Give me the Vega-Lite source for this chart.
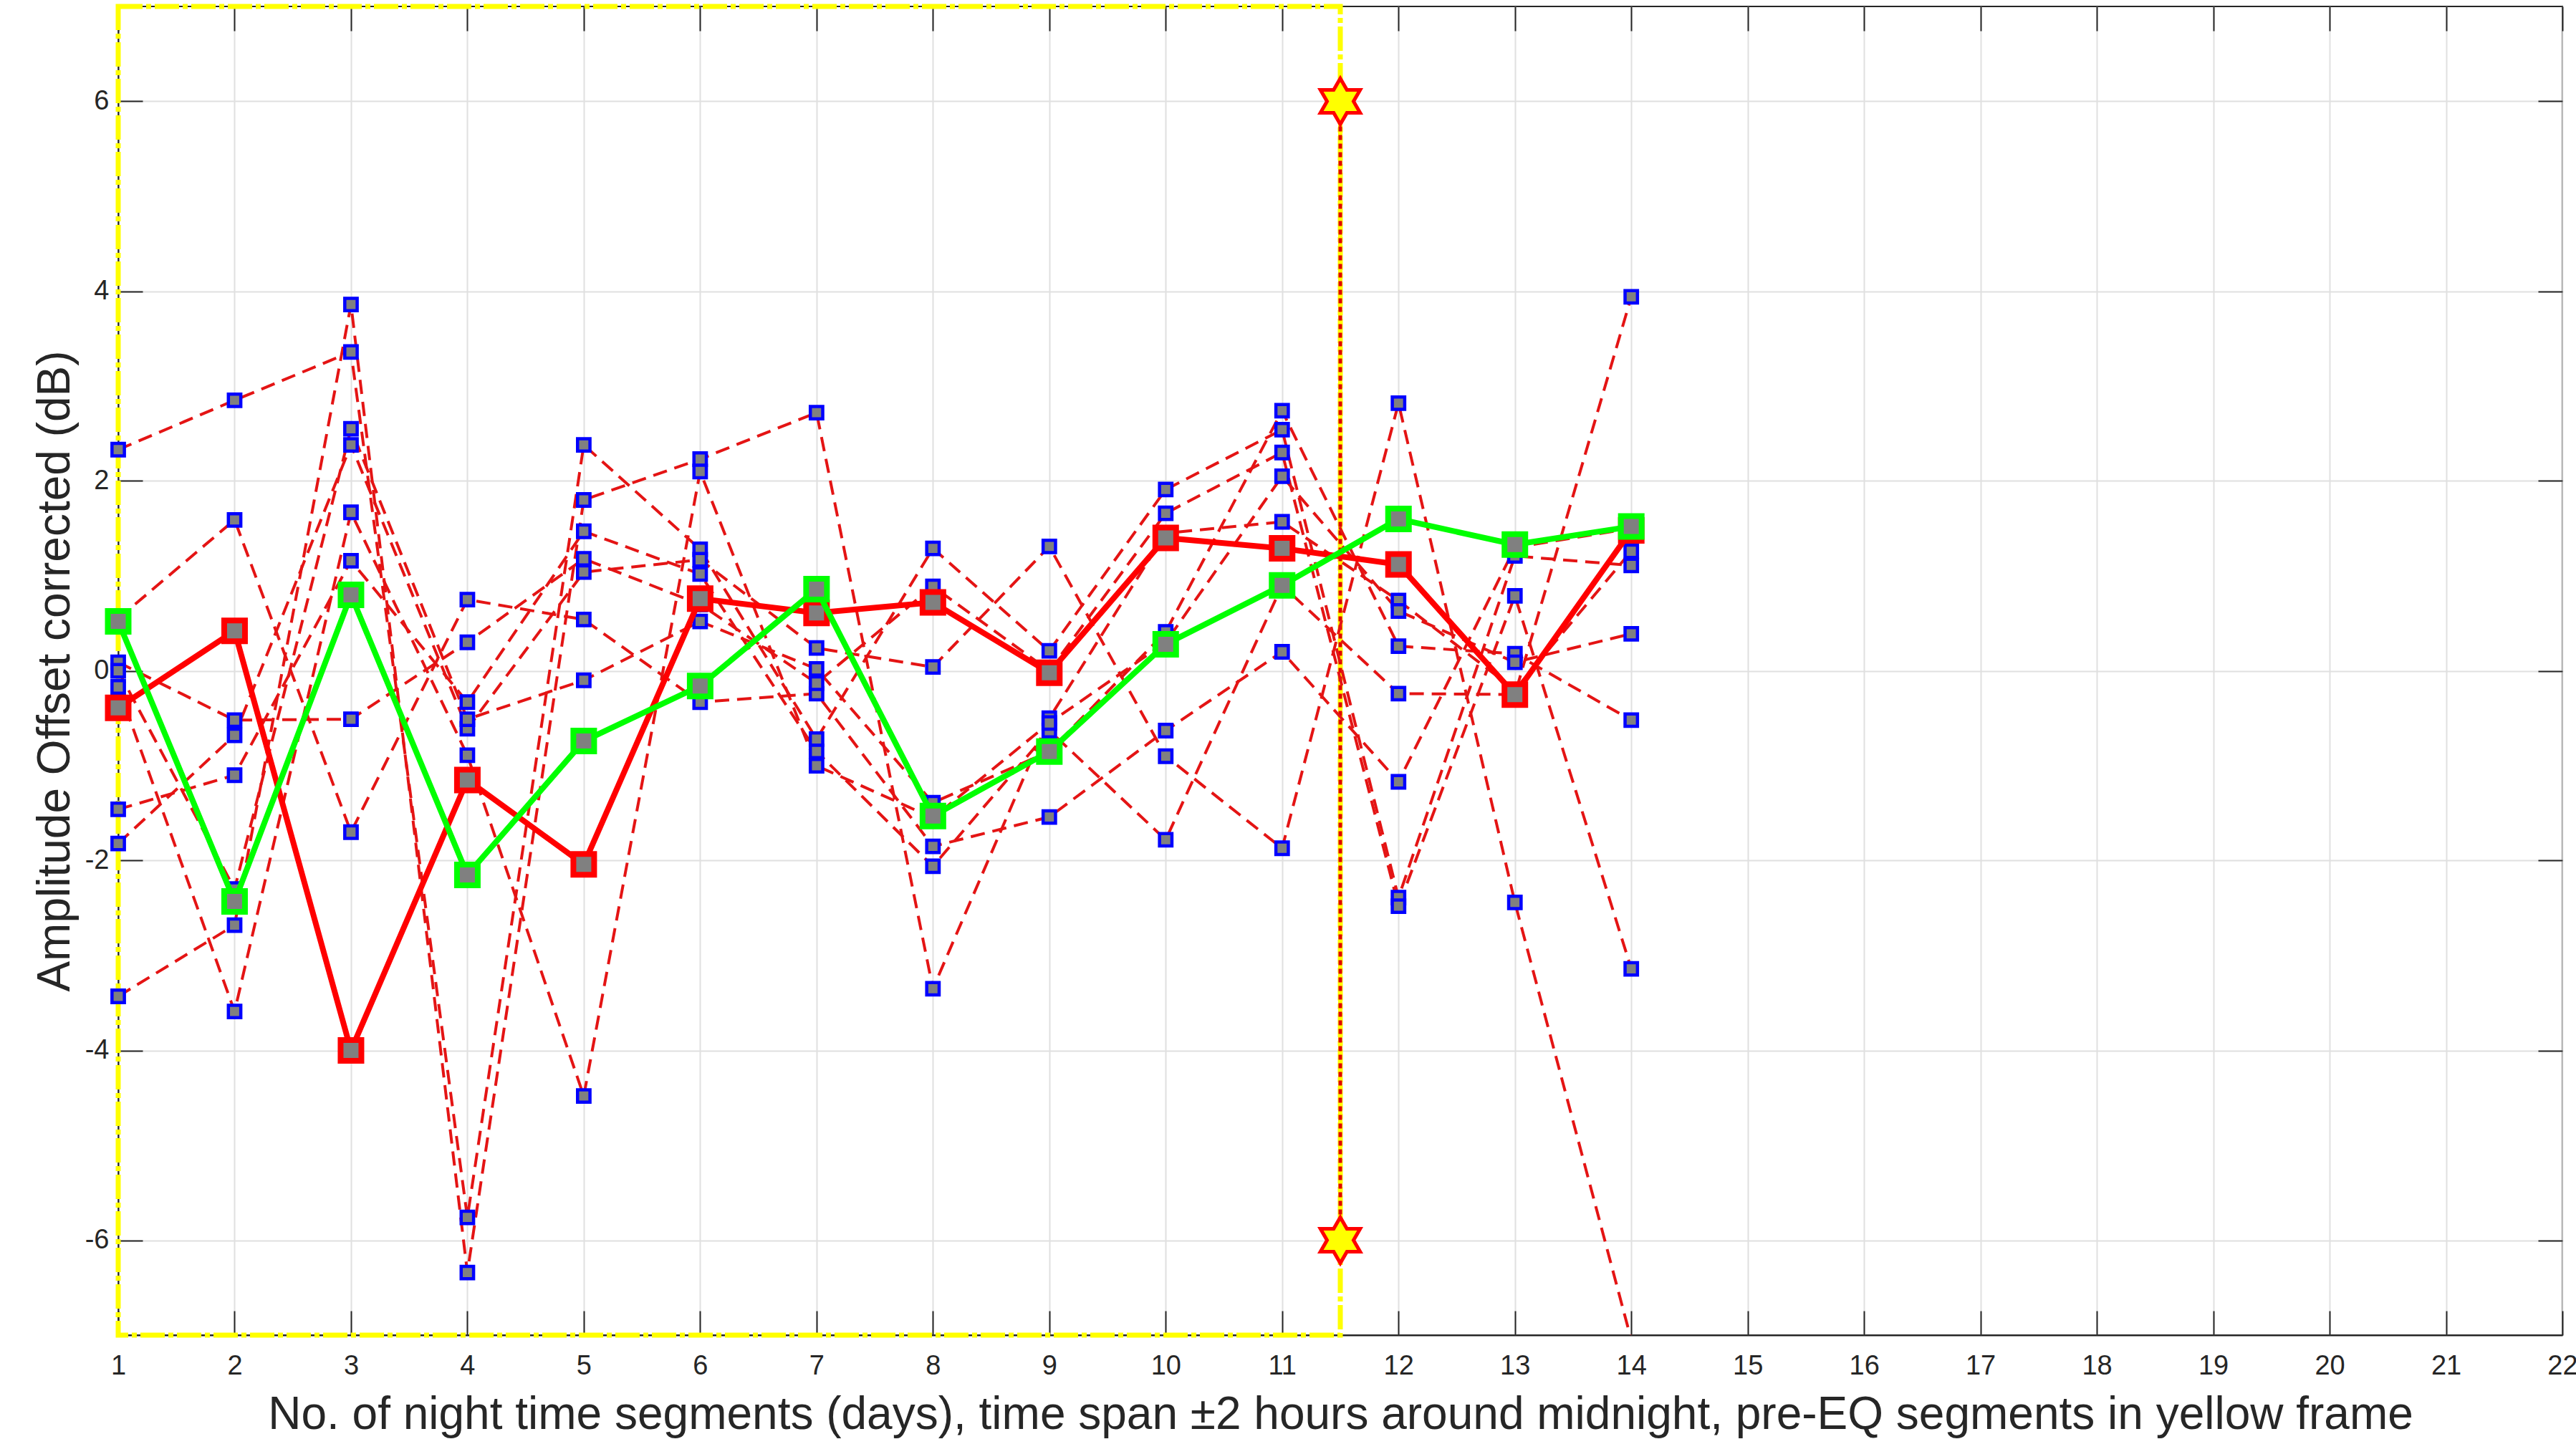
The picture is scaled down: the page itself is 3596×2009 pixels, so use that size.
{
  "$schema": "https://vega.github.io/schema/vega-lite/v6.json",
  "width": 3412,
  "height": 1855,
  "autosize": {"type": "none"},
  "padding": {"left": 165, "top": 9, "right": 19, "bottom": 145},
  "background": "white",
  "config": {"view": {"stroke": "#262626", "strokeWidth": 2}, "font": "Liberation Sans"},
  "datasets": {
    "stations": [
      {"s":"A","x":1,"y":2.33},{"s":"A","x":2,"y":2.85},{"s":"A","x":3,"y":3.36},{"s":"A","x":4,"y":-5.76},{"s":"A","x":5,"y":2.38},{"s":"A","x":6,"y":1.28},{"s":"A","x":7,"y":-0.72},{"s":"A","x":8,"y":1.29},{"s":"A","x":9,"y":0.21},{"s":"A","x":10,"y":1.91},{"s":"A","x":11,"y":2.54},{"s":"A","x":12,"y":-2.39},{"s":"A","x":13,"y":1.21},{"s":"A","x":14,"y":1.11},
      {"s":"B","x":1,"y":0.55},{"s":"B","x":2,"y":1.59},{"s":"B","x":3,"y":-1.70},{"s":"B","x":4,"y":0.75},{"s":"B","x":5,"y":0.54},{"s":"B","x":6,"y":-0.33},{"s":"B","x":7,"y":-0.24},{"s":"B","x":8,"y":-1.85},{"s":"B","x":9,"y":-1.54},{"s":"B","x":10,"y":-0.63},{"s":"B","x":11,"y":0.20},{"s":"B","x":12,"y":-1.17},{"s":"B","x":13,"y":1.30},{"s":"B","x":14,"y":1.50},
      {"s":"C","x":1,"y":0.09},{"s":"C","x":2,"y":-0.52},{"s":"C","x":3,"y":-0.51},{"s":"C","x":4,"y":0.30},{"s":"C","x":5,"y":1.18},{"s":"C","x":6,"y":0.70},{"s":"C","x":7,"y":-0.13},{"s":"C","x":8,"y":0.89},{"s":"C","x":9,"y":0.00},{"s":"C","x":10,"y":1.66},{"s":"C","x":11,"y":2.30},{"s":"C","x":12,"y":-2.48},{"s":"C","x":13,"y":0.79},{"s":"C","x":14,"y":-3.14},
      {"s":"D","x":1,"y":-1.46},{"s":"D","x":2,"y":-1.10},{"s":"D","x":3,"y":1.16},{"s":"D","x":4,"y":-0.33},{"s":"D","x":5,"y":1.47},{"s":"D","x":6,"y":1.02},{"s":"D","x":7,"y":-0.85},{"s":"D","x":8,"y":-2.06},{"s":"D","x":9,"y":-0.63},{"s":"D","x":10,"y":-1.78},{"s":"D","x":11,"y":0.90},{"s":"D","x":12,"y":-0.24},{"s":"D","x":13,"y":-0.25},{"s":"D","x":14,"y":3.94},
      {"s":"E","x":1,"y":-1.82},{"s":"E","x":2,"y":-0.68},{"s":"E","x":3,"y":2.38},{"s":"E","x":4,"y":-0.61},{"s":"E","x":5,"y":1.04},{"s":"E","x":6,"y":1.17},{"s":"E","x":7,"y":0.24},{"s":"E","x":8,"y":0.04},{"s":"E","x":9,"y":1.31},{"s":"E","x":10,"y":-0.90},{"s":"E","x":11,"y":-1.87},{"s":"E","x":12,"y":2.82},{"s":"E","x":13,"y":-2.44},{"s":"E","x":14,"y":-7.05},
      {"s":"F","x":1,"y":-3.43},{"s":"F","x":2,"y":-2.68},{"s":"F","x":3,"y":3.86},{"s":"F","x":4,"y":-6.34},{"s":"F","x":5,"y":1.80},{"s":"F","x":6,"y":2.23},{"s":"F","x":7,"y":2.72},{"s":"F","x":8,"y":-3.35},{"s":"F","x":9,"y":-0.50},{"s":"F","x":10,"y":1.45},{"s":"F","x":11,"y":1.57},{"s":"F","x":12,"y":0.74},{"s":"F","x":13,"y":-0.20},{"s":"F","x":14,"y":1.26},
      {"s":"G","x":1,"y":0.00},{"s":"G","x":2,"y":-2.30},{"s":"G","x":3,"y":2.55},{"s":"G","x":4,"y":-0.51},{"s":"G","x":5,"y":-0.10},{"s":"G","x":6,"y":0.52},{"s":"G","x":7,"y":0.02},{"s":"G","x":8,"y":-1.39},{"s":"G","x":9,"y":-0.85},{"s":"G","x":10,"y":0.41},{"s":"G","x":11,"y":2.74},{"s":"G","x":12,"y":0.26},{"s":"G","x":13,"y":0.18},{"s":"G","x":14,"y":-0.52},
      {"s":"H","x":1,"y":-0.17},{"s":"H","x":2,"y":-3.59},{"s":"H","x":3,"y":1.67},{"s":"H","x":4,"y":-0.89},{"s":"H","x":5,"y":-4.48},{"s":"H","x":6,"y":2.10},{"s":"H","x":7,"y":-1.00},{"s":"H","x":8,"y":-1.55},{"s":"H","x":9,"y":-0.55},{"s":"H","x":10,"y":0.30},{"s":"H","x":11,"y":2.05},{"s":"H","x":12,"y":0.63},{"s":"H","x":13,"y":0.09},{"s":"H","x":14,"y":0.39}
    ],
    "redmean": [
      {"x":1,"y":-0.39},{"x":2,"y":0.42},{"x":3,"y":-4.00},{"x":4,"y":-1.15},{"x":5,"y":-2.04},{"x":6,"y":0.76},{"x":7,"y":0.61},{"x":8,"y":0.72},{"x":9,"y":-0.02},{"x":10,"y":1.40},{"x":11,"y":1.29},{"x":12,"y":1.12},{"x":13,"y":-0.25},{"x":14,"y":1.48}
    ],
    "greenmean": [
      {"x":1,"y":0.52},{"x":2,"y":-2.43},{"x":3,"y":0.80},{"x":4,"y":-2.15},{"x":5,"y":-0.74},{"x":6,"y":-0.16},{"x":7,"y":0.86},{"x":8,"y":-1.53},{"x":9,"y":-0.85},{"x":10,"y":0.28},{"x":11,"y":0.90},{"x":12,"y":1.60},{"x":13,"y":1.33},{"x":14,"y":1.52}
    ],
    "frame": [{"x":1,"xe":11.5,"y":-7,"ye":7}],
    "eq": [{"x":11.5,"y":-6,"ye":6}],
    "stars": [{"x":11.5,"y":6},{"x":11.5,"y":-6}]
  },
  "resolve": {"axis": {"x": "independent", "y": "independent"}},
  "layer": [
    {
      "data": {"name": "frame"},
      "mark": {"type": "rect", "filled": false, "stroke": "#FFFF00", "strokeWidth": 7, "strokeDash": [34, 5, 7, 5]},
      "encoding": {
        "x": {"field": "x", "type": "quantitative", "scale": {"domain": [1, 22], "nice": false, "zero": false}, "axis": null},
        "x2": {"field": "xe"},
        "y": {"field": "y", "type": "quantitative", "scale": {"domain": [-7, 7], "nice": false, "zero": false}, "axis": null},
        "y2": {"field": "ye"}
      }
    },
    {
      "data": {"name": "eq"},
      "mark": {"type": "rule", "stroke": "#FFFF00", "strokeWidth": 6},
      "encoding": {
        "x": {"field": "x", "type": "quantitative", "scale": {"domain": [1, 22], "nice": false, "zero": false}, "axis": null},
        "y": {"field": "y", "type": "quantitative", "scale": {"domain": [-7, 7], "nice": false, "zero": false}, "axis": null},
        "y2": {"field": "ye"}
      }
    },
    {
      "data": {"name": "eq"},
      "mark": {"type": "rule", "stroke": "#E00000", "strokeWidth": 5, "strokeDash": [7, 5]},
      "encoding": {
        "x": {"field": "x", "type": "quantitative", "scale": {"domain": [1, 22], "nice": false, "zero": false}, "axis": null},
        "y": {"field": "y", "type": "quantitative", "scale": {"domain": [-7, 7], "nice": false, "zero": false}, "axis": null},
        "y2": {"field": "ye"}
      }
    },
    {
      "data": {"name": "stations"},
      "mark": {"type": "line", "stroke": "#E41414", "strokeWidth": 4, "strokeDash": [20, 11], "clip": true},
      "encoding": {
        "x": {"field": "x", "type": "quantitative", "scale": {"domain": [1, 22], "nice": false, "zero": false}, "axis": null},
        "y": {"field": "y", "type": "quantitative", "scale": {"domain": [-7, 7], "nice": false, "zero": false}, "axis": null},
        "detail": {"field": "s", "type": "nominal"}
      }
    },
    {
      "data": {"name": "stations"},
      "transform": [{"filter": "datum.y >= -7"}],
      "mark": {"type": "point", "shape": "square", "filled": true, "fill": "#808080", "stroke": "#0000FF", "strokeWidth": 4.5, "size": 300, "opacity": 1, "fillOpacity": 1, "strokeOpacity": 1},
      "encoding": {
        "x": {"field": "x", "type": "quantitative", "scale": {"domain": [1, 22], "nice": false, "zero": false},
          "axis": {"orient": "bottom", "values": [1,2,3,4,5,6,7,8,9,10,11,12,13,14,15,16,17,18,19,20,21,22],
            "title": "No. of night time segments (days), time span ±2 hours around midnight, pre-EQ segments in yellow frame",
            "grid": true, "gridColor": "#E0E0E0", "gridWidth": 2,
            "domain": true, "domainColor": "#262626", "domainWidth": 2,
            "ticks": true, "tickSize": -34, "tickColor": "#262626", "tickWidth": 2,
            "labelPadding": 58, "labelFontSize": 38, "labelColor": "#262626", "labelFont": "Liberation Sans", "labelFlush": false, "labelOverlap": false,
            "titleFontSize": 64, "titleFont": "Liberation Sans", "titleFontWeight": "normal", "titleColor": "#262626", "titleY": 130, "titleBaseline": "alphabetic"}},
        "y": {"field": "y", "type": "quantitative", "scale": {"domain": [-7, 7], "nice": false, "zero": false},
          "axis": {"orient": "left", "values": [-6, -4, -2, 0, 2, 4, 6], "labelExpr": "'' + datum.value",
            "title": "Amplitude Offset corrected (dB)",
            "grid": true, "gridColor": "#E0E0E0", "gridWidth": 2,
            "domain": true, "domainColor": "#262626", "domainWidth": 2,
            "ticks": true, "tickSize": -34, "tickColor": "#262626", "tickWidth": 2,
            "labelPadding": 47, "labelFontSize": 38, "labelColor": "#262626", "labelFont": "Liberation Sans", "labelFlush": false, "labelOverlap": false,
            "titleFontSize": 64, "titleFont": "Liberation Sans", "titleFontWeight": "normal", "titleColor": "#262626", "titleX": -69, "titleBaseline": "alphabetic"}}
      }
    },
    {
      "data": {"name": "redmean"},
      "mark": {"type": "line", "stroke": "#FF0000", "strokeWidth": 8},
      "encoding": {
        "x": {"field": "x", "type": "quantitative", "scale": {"domain": [1, 22], "nice": false, "zero": false}, "axis": null},
        "y": {"field": "y", "type": "quantitative", "scale": {"domain": [-7, 7], "nice": false, "zero": false}, "axis": null}
      }
    },
    {
      "data": {"name": "redmean"},
      "mark": {"type": "point", "shape": "square", "filled": true, "fill": "#808080", "stroke": "#FF0000", "strokeWidth": 8, "size": 841, "opacity": 1, "fillOpacity": 1, "strokeOpacity": 1},
      "encoding": {
        "x": {"field": "x", "type": "quantitative", "scale": {"domain": [1, 22], "nice": false, "zero": false}, "axis": null},
        "y": {"field": "y", "type": "quantitative", "scale": {"domain": [-7, 7], "nice": false, "zero": false}, "axis": null}
      }
    },
    {
      "data": {"name": "greenmean"},
      "mark": {"type": "line", "stroke": "#00FF00", "strokeWidth": 8},
      "encoding": {
        "x": {"field": "x", "type": "quantitative", "scale": {"domain": [1, 22], "nice": false, "zero": false}, "axis": null},
        "y": {"field": "y", "type": "quantitative", "scale": {"domain": [-7, 7], "nice": false, "zero": false}, "axis": null}
      }
    },
    {
      "data": {"name": "greenmean"},
      "mark": {"type": "point", "shape": "square", "filled": true, "fill": "#808080", "stroke": "#00FF00", "strokeWidth": 8, "size": 841, "opacity": 1, "fillOpacity": 1, "strokeOpacity": 1},
      "encoding": {
        "x": {"field": "x", "type": "quantitative", "scale": {"domain": [1, 22], "nice": false, "zero": false}, "axis": null},
        "y": {"field": "y", "type": "quantitative", "scale": {"domain": [-7, 7], "nice": false, "zero": false}, "axis": null}
      }
    },
    {
      "data": {"name": "stars"},
      "mark": {"type": "point", "shape": "M0,-1L0.2887,-0.5L0.866,-0.5L0.577,0L0.866,0.5L0.2887,0.5L0,1L-0.2887,0.5L-0.866,0.5L-0.577,0L-0.866,-0.5L-0.2887,-0.5Z", "filled": true, "fill": "#FFFF00", "stroke": "#FF0000", "strokeWidth": 5, "size": 4096, "opacity": 1, "fillOpacity": 1, "strokeOpacity": 1},
      "encoding": {
        "x": {"field": "x", "type": "quantitative", "scale": {"domain": [1, 22], "nice": false, "zero": false},
          "axis": {"orient": "top", "values": [1,2,3,4,5,6,7,8,9,10,11,12,13,14,15,16,17,18,19,20,21,22], "labels": false, "grid": false, "domain": false, "ticks": true, "tickSize": -34, "tickColor": "#262626", "tickWidth": 2, "title": null}},
        "y": {"field": "y", "type": "quantitative", "scale": {"domain": [-7, 7], "nice": false, "zero": false},
          "axis": {"orient": "right", "values": [-6, -4, -2, 0, 2, 4, 6], "labels": false, "grid": false, "domain": false, "ticks": true, "tickSize": -34, "tickColor": "#262626", "tickWidth": 2, "title": null}}
      }
    }
  ]
}
